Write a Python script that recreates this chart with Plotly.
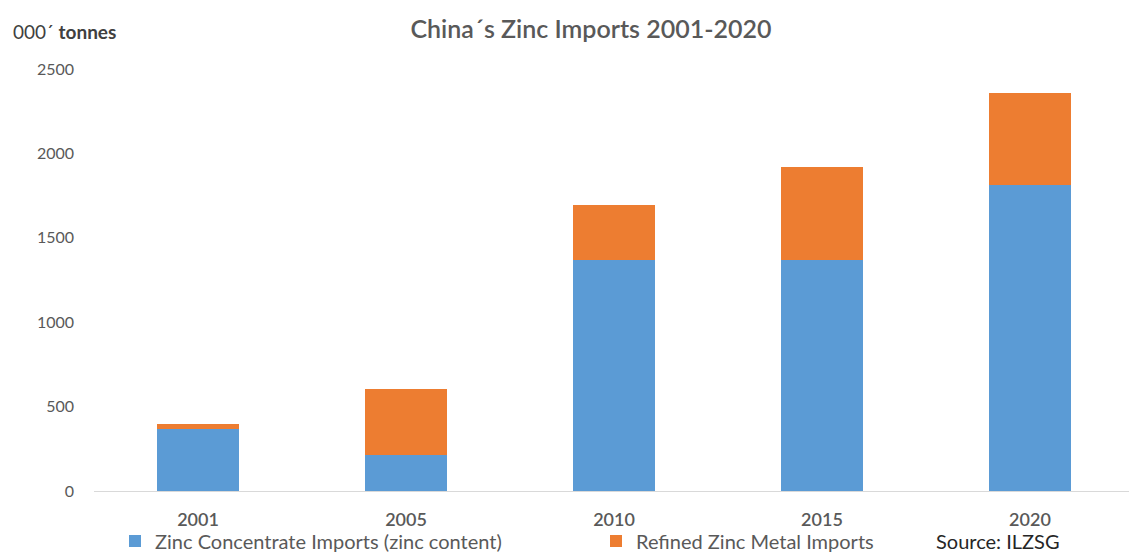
import plotly.graph_objects as go

years = ["2001", "2005", "2010", "2015", "2020"]
concentrate = [367, 213, 1368, 1368, 1813]
refined = [30, 391, 326, 551, 545]

W, H = 1129, 554
ML, MR, MT, MB = 94, 0, 69, 63
PW = W - ML - MR
PH = H - MT - MB

def px(x):
    return (x - ML) / PW

def py(y):
    return (H - MB - y) / PH

FONT = "Lato, 'Open Sans', sans-serif"
GREY = "#595959"

fig = go.Figure()
fig.add_trace(go.Bar(x=years, y=concentrate, name="Zinc Concentrate Imports (zinc content)",
                     marker=dict(color="#5B9BD5", line=dict(width=0))))
fig.add_trace(go.Bar(x=years, y=refined, name="Refined Zinc Metal Imports",
                     marker=dict(color="#ED7D31", line=dict(width=0))))

fig.update_layout(
    width=W, height=H,
    barmode="stack", bargap=0.605,
    margin=dict(l=ML, r=MR, t=MT, b=MB, autoexpand=False),
    plot_bgcolor="white", paper_bgcolor="white",
    font=dict(family=FONT, color=GREY, size=15),
    title=dict(text="China´s Zinc Imports 2001-2020", x=591 / W,
               xanchor="center", y=1 - 29 / H, yanchor="middle",
               font=dict(family=FONT, size=25, color=GREY, weight=600)),
    xaxis=dict(showline=True, linecolor="#D9D9D9", linewidth=1, ticks="",
               showgrid=False, ticklabelstandoff=12, range=[-0.5, 4.476],
               tickfont=dict(size=18, color=GREY, weight=600)),
    yaxis=dict(range=[0, 2500], tickvals=[0, 500, 1000, 1500, 2000, 2500],
               showgrid=False, zeroline=False, ticks="", ticklabelstandoff=19,
               tickfont=dict(size=16, color=GREY)),
    legend=dict(orientation="h", x=px(115), xanchor="left", y=py(541), yanchor="middle",
                font=dict(size=20, color=GREY), entrywidth=436, entrywidthmode="pixels",
                itemwidth=30, traceorder="normal", bgcolor="rgba(0,0,0,0)"),
    showlegend=True,
)

fig.add_annotation(text="000´ <b>tonnes</b>", xref="paper", yref="paper",
                   x=px(11), y=py(32), xanchor="left", yanchor="middle", showarrow=False,
                   font=dict(family=FONT, size=19, color="#404040"))
fig.add_annotation(text="Source: ILZSG", xref="paper", yref="paper",
                   x=px(998), y=py(541), xanchor="center", yanchor="middle", showarrow=False,
                   font=dict(family=FONT, size=20, color="#262626"))

fig.write_html("out.html", config={"displayModeBar": False},
               post_script="document.body.style.margin='0';")
